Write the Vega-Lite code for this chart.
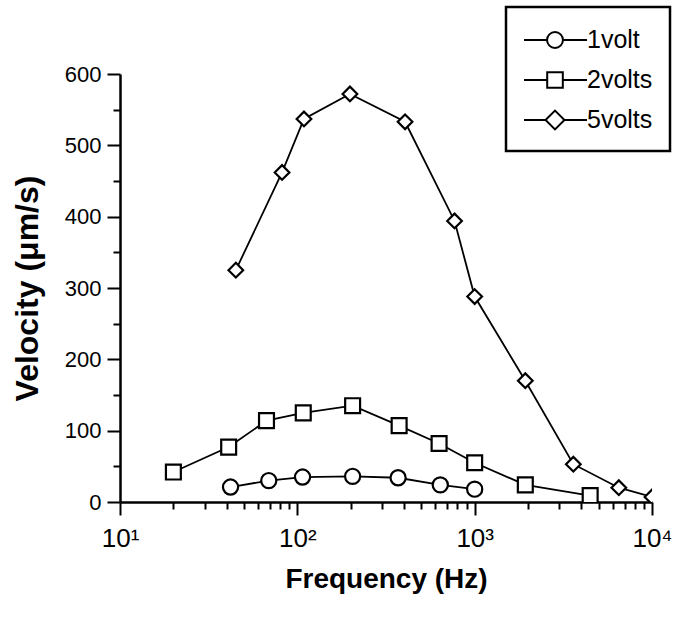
{
  "$schema": "https://vega.github.io/schema/vega-lite/v6.json",
  "width": 532,
  "height": 428,
  "autosize": "none",
  "padding": {"left": 120, "top": 74, "right": 23, "bottom": 121},
  "background": "white",
  "config": {
    "view": {"stroke": null},
    "font": "Liberation Sans",
    "axis": {"grid": false, "domainColor": "black", "domainWidth": 2.5, "tickColor": "black", "tickWidth": 2, "labelColor": "black", "titleColor": "black", "labelFont": "Liberation Sans", "titleFont": "Liberation Sans"},
    "legend": {"strokeWidth": 2.5}
  },
  "data": {
    "values": [
      {"series": "1volt", "freq": 42, "vel": 21},
      {"series": "1volt", "freq": 69, "vel": 30},
      {"series": "1volt", "freq": 107, "vel": 35},
      {"series": "1volt", "freq": 205, "vel": 36},
      {"series": "1volt", "freq": 370, "vel": 34},
      {"series": "1volt", "freq": 640, "vel": 24},
      {"series": "1volt", "freq": 1000, "vel": 18},
      {"series": "2volts", "freq": 20, "vel": 42},
      {"series": "2volts", "freq": 41, "vel": 77},
      {"series": "2volts", "freq": 67, "vel": 114},
      {"series": "2volts", "freq": 108, "vel": 125},
      {"series": "2volts", "freq": 205, "vel": 135},
      {"series": "2volts", "freq": 375, "vel": 107},
      {"series": "2volts", "freq": 630, "vel": 82},
      {"series": "2volts", "freq": 1000, "vel": 55},
      {"series": "2volts", "freq": 1930, "vel": 24},
      {"series": "2volts", "freq": 4480, "vel": 9},
      {"series": "5volts", "freq": 45, "vel": 325},
      {"series": "5volts", "freq": 82, "vel": 462},
      {"series": "5volts", "freq": 109, "vel": 537},
      {"series": "5volts", "freq": 198, "vel": 572},
      {"series": "5volts", "freq": 405, "vel": 533},
      {"series": "5volts", "freq": 770, "vel": 394},
      {"series": "5volts", "freq": 1000, "vel": 288},
      {"series": "5volts", "freq": 1930, "vel": 170},
      {"series": "5volts", "freq": 3600, "vel": 53},
      {"series": "5volts", "freq": 6500, "vel": 20},
      {"series": "5volts", "freq": 10000, "vel": 7}
    ]
  },
  "encoding": {
    "x": {
      "field": "freq", "type": "quantitative",
      "scale": {"type": "log", "domain": [10, 10000], "nice": false},
      "axis": {
        "title": "Frequency (Hz)", "titleFontSize": 28, "titleFontWeight": "bold", "titlePadding": 14,
        "values": [10,20,30,40,50,60,70,80,90,100,200,300,400,500,600,700,800,900,1000,2000,3000,4000,5000,6000,7000,8000,9000,10000],
        "labelExpr": "datum.value == 10 ? '10¹' : datum.value == 100 ? '10²' : datum.value == 1000 ? '10³' : datum.value == 10000 ? '10⁴' : ''",
        "labelOverlap": false, "labelFontSize": 26, "labelPadding": 10, "labelFlush": false,
        "tickSize": {"condition": {"test": "indexof([10,100,1000,10000], datum.value) >= 0", "value": 13}, "value": 7}
      }
    },
    "y": {
      "field": "vel", "type": "quantitative",
      "scale": {"domain": [0, 600], "nice": false, "zero": true},
      "axis": {
        "title": "Velocity (μm/s)", "titleFontSize": 32, "titleFontWeight": "bold", "titlePadding": 20,
        "values": [0,50,100,150,200,250,300,350,400,450,500,550,600],
        "labelExpr": "datum.value % 100 == 0 ? datum.value : ''",
        "labelOverlap": false, "labelFontSize": 22, "labelPadding": 6, "labelFlush": false,
        "tickSize": {"condition": {"test": "datum.value % 100 == 0", "value": 13}, "value": 7}
      }
    }
  },
  "layer": [
    {
      "mark": {"type": "line", "color": "black", "strokeWidth": 1.8, "clip": true},
      "encoding": {"detail": {"field": "series"}}
    },
    {
      "mark": {"type": "point", "filled": true, "fill": "white", "stroke": "black", "strokeWidth": 2.2, "opacity": 1, "clip": true},
      "encoding": {
        "shape": {"field": "series", "type": "nominal", "legend": null,
          "scale": {"domain": ["1volt", "2volts", "5volts"], "range": ["circle", "square", "diamond"]}},
        "size": {"field": "series", "type": "nominal", "legend": null,
          "scale": {"domain": ["1volt", "2volts", "5volts"], "range": [230, 215, 310]}}
      }
    },
    {
      "mark": {"type": "point", "filled": false, "color": "black", "strokeWidth": 2, "size": 0},
      "encoding": {
        "shape": {"field": "series", "type": "nominal",
          "scale": {"domain": ["1volt", "2volts", "5volts"], "range": [
            "M-1,0H0.537M1.597,0H3.2M1.597,0A0.53,0.53,0,1,1,0.537,0A0.53,0.53,0,1,1,1.597,0Z",
            "M-1,0H0.547M1.587,0H3.2M0.547,-0.52H1.587V0.52H0.547Z",
            "M-1,0H0.437M1.697,0H3.2M0.437,0L1.067,-0.63L1.697,0L1.067,0.63Z"
          ]},
          "legend": {
            "title": null, "orient": "none", "legendX": 386, "legendY": -67,
            "strokeColor": "black", "fillColor": "white", "padding": 17,
            "symbolSize": 900, "symbolStrokeColor": "black", "symbolStrokeWidth": 2, "symbolOpacity": 1,
            "labelFontSize": 25, "labelFont": "Liberation Sans", "labelColor": "black", "labelOffset": 32, "rowPadding": 11
          }
        }
      }
    }
  ],
  "resolve": {"scale": {"shape": "independent"}, "legend": {"shape": "independent"}}
}
